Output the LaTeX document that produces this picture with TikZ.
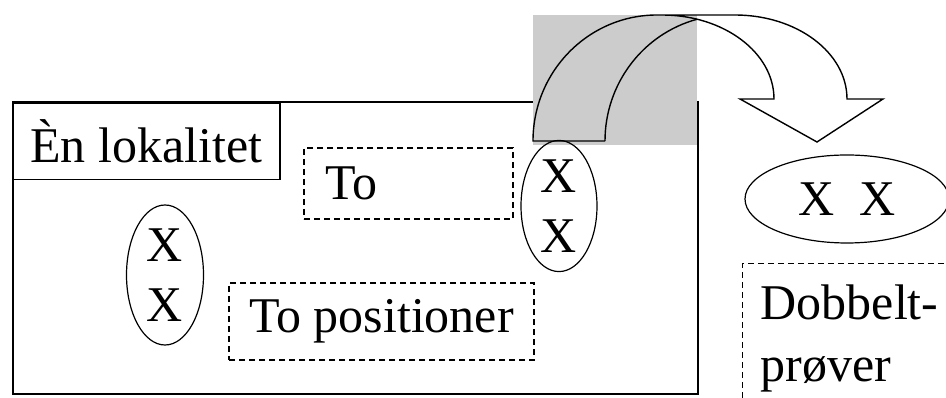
\documentclass[tikz,border=0pt]{standalone}
\usepackage{fontspec}
\setmainfont{Liberation Serif}
\usetikzlibrary{shapes.geometric}

\begin{document}
\begin{tikzpicture}[
    x=1pt, y=1pt,
    every node/.style={
        font=\fontsize{50}{60}\selectfont,
        inner sep=0pt,
    },
    box/.style={
        draw=black,
        line width=1.5pt
    },
    dashbox/.style={
        draw=black,
        line width=1.4pt,
        dash pattern=on 6pt off 4pt
    },
    oval/.style={
        ellipse,
        draw=black,
        line width=1.2pt,
        align=center
    },
    arrowline/.style={
        draw=black,
        line width=1.4pt
    }
]

    \clip (0,0) rectangle (946,398);
    \useasboundingbox (0,0) rectangle (946,398);

    \node[box, minimum width=685pt, minimum height=292pt, anchor=south west] (frame) at (12,3) {};
    \node[box, minimum width=267pt, minimum height=76pt, anchor=north west] (place) at (12,295) {Èn lokalitet};

    \fill[gray!40] (533,253) rectangle (697,383);

    \draw[arrowline] (605,257) -- (533,257)
        arc[start angle=180, end angle=90, x radius=124, y radius=126] -- (735,383)
        arc[start angle=90, end angle=0, x radius=112, y radius=84]
        -- (883,299) -- (817,256) -- (740,299) -- (774,299)
        arc[start angle=0, end angle=90, x radius=112, y radius=84];
    \draw[arrowline] (605,257) arc[start angle=180, end angle=105, x radius=124, y radius=126];

    \node[dashbox, minimum height=71pt, text width=167pt, inner xsep=21pt, align=left] (two) at (408.5,214.5) {To};
    \node[dashbox, minimum width=305pt, minimum height=77pt] (twopos) at (381.5,76.5) {To positioner};

    \node[oval, minimum width=76pt, minimum height=126pt] (pairmid) at (559,192) {X\\X};
    \node[oval, minimum width=77pt, minimum height=140pt] (pairleft) at (165,123) {X\\X};
    \node[oval, minimum width=204pt, minimum height=88pt] (pairright) at (847,199) {X\ \ X};

    \node[dashbox, anchor=north west, text width=200pt, inner xsep=18pt, inner ysep=21pt, align=left,
        font=\fontsize{50}{62}\selectfont] (double) at (742,135) {Dobbelt-\\prøver};
\end{tikzpicture}
\end{document}
